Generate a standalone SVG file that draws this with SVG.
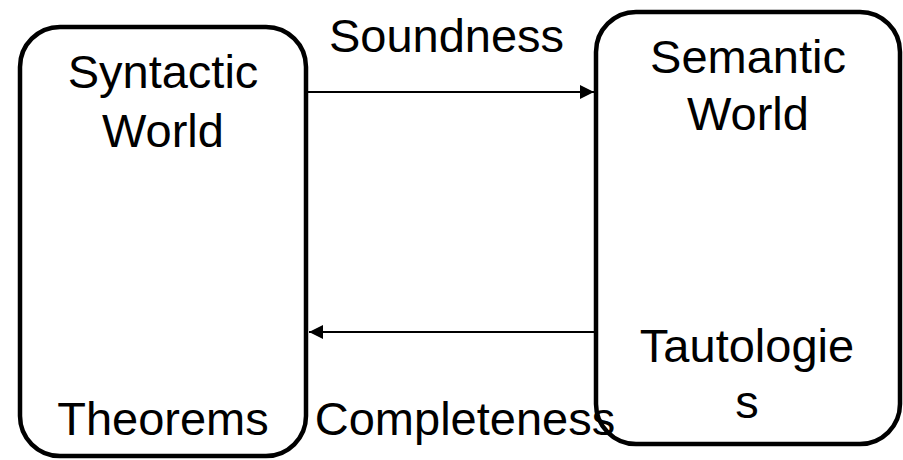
<svg xmlns="http://www.w3.org/2000/svg" width="903" height="460" viewBox="0 0 903 460">
<style>
.box{fill:#fff;stroke:#000;stroke-width:4.5}
.t{font-family:"Liberation Sans",Arial,sans-serif;font-size:47px;fill:#000;text-anchor:middle}
.c{stroke:#000;stroke-width:2;fill:none}
</style>
<defs>
<marker id="ah" markerUnits="userSpaceOnUse" markerWidth="16" markerHeight="16" refX="14" refY="7" orient="auto">
<path d="M0,0 L14,7 L0,14 Z" fill="#000"/>
</marker>
</defs>
<rect width="903" height="460" fill="#fff"/>
<g id="syntactic">
<rect class="box" x="20" y="27" width="286" height="429" rx="40" ry="40"/>
<text class="t" x="163" y="88">Syntactic</text>
<text class="t" x="163" y="147">World</text>
<text class="t" x="163" y="435">Theorems</text>
</g>
<g id="semantic">
<rect class="box" x="596" y="12" width="304" height="432" rx="40" ry="40"/>
<text class="t" x="748" y="73">Semantic</text>
<text class="t" x="748" y="130">World</text>
<text class="t" x="747" y="362">Tautologie</text>
<text class="t" x="747" y="418">s</text>
</g>
<g id="connectors">
<line class="c" x1="308" y1="92" x2="594" y2="92" marker-end="url(#ah)"/>
<text class="t" x="446.5" y="52">Soundness</text>
<line class="c" x1="594" y1="332" x2="309" y2="332" marker-end="url(#ah)"/>
<text class="t" x="465" y="435">Completeness</text>
</g>
</svg>
